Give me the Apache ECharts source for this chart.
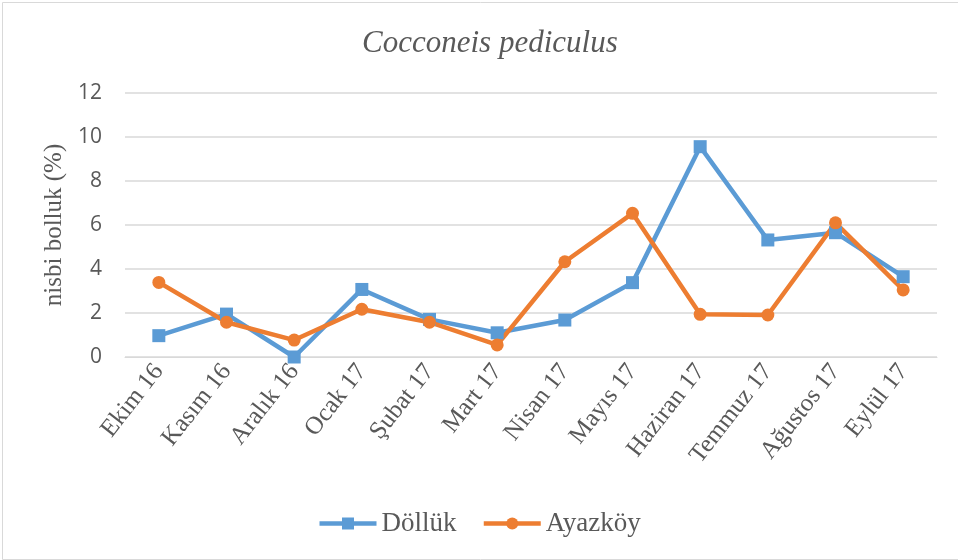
<!DOCTYPE html>
<html>
<head>
<meta charset="utf-8">
<script src="https://cdn.jsdelivr.net/npm/echarts@6/dist/echarts.min.js"></script>
<style>
  html, body { margin: 0; padding: 0; background: #fff; }
  #chart { width: 958px; height: 560px; }
</style>
</head>
<body>
<div id="chart"></div>
<script>
// kategoriler ve seriler
const months = ['Ekim 16', 'Kasım 16', 'Aralık 16', 'Ocak 17', 'Şubat 17', 'Mart 17', 'Nisan 17', 'Mayıs 17', 'Haziran 17', 'Temmuz 17', 'Ağustos 17', 'Eylül 17']
const dolluk = [0.97, 1.95, 0, 3.07, 1.71, 1.1, 1.68, 3.38, 9.56, 5.32, 5.65, 3.65]
const ayazkoy = [3.39, 1.58, 0.77, 2.17, 1.58, 0.55, 4.33, 6.53, 1.94, 1.91, 6.1, 3.05]

const BLUE = '#5b9bd5'
const ORANGE = '#ed7d31'
const serif = '"Liberation Serif", "DejaVu Serif", serif'
const legendText = { fontFamily: serif, fontSize: 27, color: '#595959' }

const chart = echarts.init(document.getElementById('chart'))

chart.setOption({
  animation: false,
  title: {
    text: 'Cocconeis pediculus',
    left: 357, top: 23,
    textStyle: { fontFamily: serif, fontStyle: 'italic', fontWeight: 'normal', fontSize: 31, color: '#595959' },
  },
  legend: {
    bottom: 18, left: 'center',
    itemWidth: 57, itemHeight: 15, itemGap: 25,
    textStyle: legendText,
    data: [
      { name: 'Döllük', lineStyle: { width: 4.5 }, textStyle: legendText },
      { name: 'Ayazköy', lineStyle: { width: 4.5 }, textStyle: legendText },
    ],
  },
  grid: { left: 125, right: 21, top: 93, bottom: 203 },
  xAxis: {
    type: 'category', data: months,
    axisLine: { lineStyle: { color: '#d9d9d9', width: 1 } },
    axisTick: { show: false },
    axisLabel: { rotate: 52, fontFamily: serif, fontSize: 25, color: '#595959', interval: 0, margin: 10 },
  },
  yAxis: {
    type: 'value', min: 0, max: 12, interval: 2,
    name: 'nisbi bolluk (%)', nameLocation: 'middle', nameGap: 58, nameRotate: 90,
    nameTextStyle: { fontFamily: serif, fontSize: 25, color: '#595959' },
    axisLine: { show: false }, axisTick: { show: false },
    splitLine: { lineStyle: { color: '#d9d9d9', width: 1.5 } },
    axisLabel: { fontFamily: '"Open Sans", "Noto Sans", sans-serif', fontSize: 21, color: '#595959', margin: 23 },
  },
  series: [
    {
      name: 'Döllük', type: 'line', data: dolluk,
      symbol: 'rect', symbolSize: 13,
      lineStyle: { color: BLUE, width: 4.5 },
      itemStyle: { color: BLUE },
    },
    {
      name: 'Ayazköy', type: 'line', data: ayazkoy,
      symbol: 'circle', symbolSize: 13,
      lineStyle: { color: ORANGE, width: 4.5 },
      itemStyle: { color: ORANGE },
    },
  ],
  graphic: [{
    type: 'rect', left: 0, top: 0, silent: true,
    shape: { width: 956, height: 557 },
    style: { fill: 'none', stroke: '#d9d9d9', lineWidth: 1 },
  }],
})
</script>
</body>
</html>
